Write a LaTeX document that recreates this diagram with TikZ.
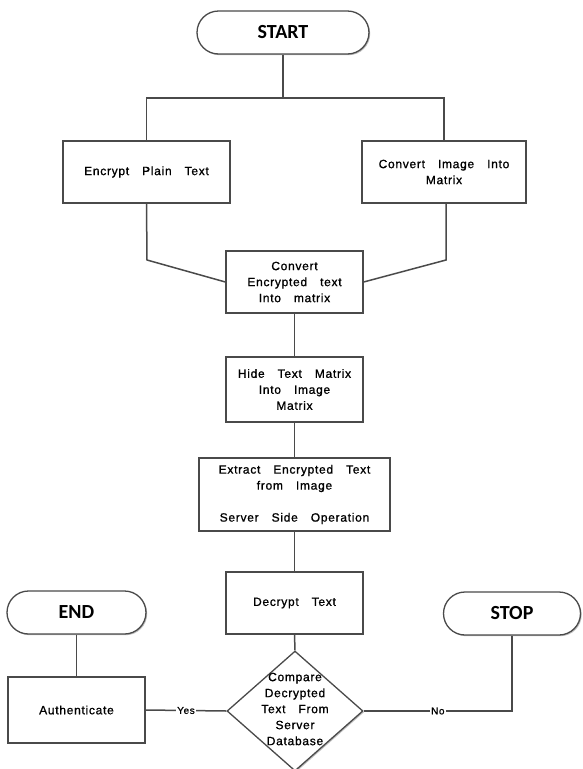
\documentclass[tikz,border=0pt]{standalone}
\usepackage{fontspec}
\setmainfont{Liberation Sans}[LetterSpace=6,WordSpace=3.2,FakeBold=1]
\newfontfamily\termfont{Carlito}
\usetikzlibrary{shapes.geometric,shadows}
\definecolor{edgegray}{HTML}{4a4a4a}
\tikzset{
  shad/.style={drop shadow={shadow xshift=1.2pt,shadow yshift=-1.2pt,fill=black!25,opacity=1}},
  procbox/.style={draw=edgegray,line width=1.3pt,fill=white,rectangle,inner sep=0pt,align=center,
    font=\fontsize{12}{16}\selectfont,shad},
  termbox/.style={draw=edgegray,line width=1.3pt,fill=white,rectangle,rounded corners=21.5pt,
    minimum height=43pt,inner sep=0pt,font=\termfont\bfseries\fontsize{20}{22}\selectfont,shad},
  decbox/.style={draw=edgegray,line width=1.3pt,fill=white,diamond,inner sep=0pt,
    minimum width=136pt,minimum height=120pt,shad},
  conn/.style={draw=edgegray,line width=1.5pt},
  lbl/.style={fill=white,inner sep=1.5pt,font=\fontsize{10}{12}\selectfont}
}
\begin{document}
\begin{tikzpicture}[x=1pt,y=-1pt]
\useasboundingbox (0,0) rectangle (582,769);
\fill[white] (0,0) rectangle (582,769);

\node[termbox,minimum width=172pt] (start) at (283,32.5) {START};
\node[procbox,minimum width=167pt,minimum height=62pt] (enc) at (146.5,172) {Encrypt Plain Text};
\node[procbox,minimum width=164pt,minimum height=62pt] (img) at (444,172) {Convert Image Into\\Matrix};
\node[procbox,minimum width=137pt,minimum height=62pt] (cet) at (294.5,282) {Convert\\Encrypted text\\Into matrix};
\node[procbox,minimum width=137pt,minimum height=65pt] (hide) at (294.5,389.5) {Hide Text Matrix\\Into Image\\Matrix};
\node[procbox,minimum width=191pt,minimum height=73pt] (ext) at (294.5,494.5) {Extract Encrypted Text\\from Image\\[16pt]Server Side Operation};
\node[procbox,minimum width=137pt,minimum height=62pt] (dec) at (294.5,603) {Decrypt Text};
\node[decbox] (cmp) at (295,711) {};
\node[align=center,inner sep=0pt,font=\fontsize{12}{16}\selectfont] (cmptext) at (295,709) {Compare\\Decrypted\\Text From\\Server\\Database};
\node[procbox,minimum width=137pt,minimum height=66pt] (auth) at (76.5,710) {Authenticate};
\node[termbox,minimum width=139pt] (endn) at (76.5,612.5) {END};
\node[termbox,minimum width=137pt] (stopn) at (512,613.5) {STOP};

\coordinate (split) at (283,98);
\coordinate (bendL) at (147,260);
\coordinate (bendR) at (446,260);
\coordinate (ncorner) at (stopn.south |- cmp.east);

\path[conn] (start.south) -- (split);
\path[conn] (enc.north) |- (split) -| (img.north);
\path[conn] (enc.south) -- (bendL) -- (cet.west);
\path[conn] (img.south -| bendR) -- (bendR) -- (cet.east);
\path[conn] (cet.south) -- (hide.north);
\path[conn] (hide.south) -- (ext.north);
\path[conn] (ext.south) -- (dec.north);
\path[conn] (dec.south) -- (cmp.north);
\path[conn] (cmp.west) -- node[lbl] (yes) {Yes} (auth.east);
\path[conn] (cmp.east) -- node[lbl] (no) {No} (ncorner) -- (stopn.south);
\path[conn] (endn.south) -- (auth.north);
\end{tikzpicture}
\end{document}
